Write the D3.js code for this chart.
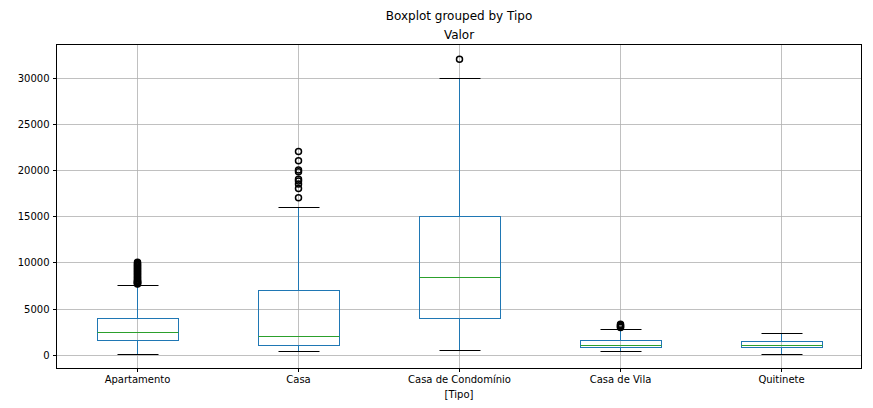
<!DOCTYPE html>
<html>
<head>
<meta charset="utf-8">
<script src="https://cdn.jsdelivr.net/npm/d3@7"></script>
<style>
body{margin:0;background:#fff;}
text{font-family:"DejaVu Sans",sans-serif;fill:#000;}
</style>
</head>
<body>
<svg id="chart" width="873" height="408"></svg>
<script>
const categories = ["Apartamento","Casa","Casa de Condomínio","Casa de Vila","Quitinete"];
const whiskerLow = [100, 450, 550, 450, 100];
const q1 = [1620, 1000, 3950, 800, 850];
const median = [2500, 2000, 8450, 1000, 1100];
const q3 = [4000, 7000, 15000, 1600, 1500];
const whiskerHigh = [7600, 16000, 30000, 2800, 2400];
const outliers = [
  [7650, 7700, 7750, 7800, 7850, 7900, 7950, 8000, 8100, 8200, 8300, 8400, 8500, 8600, 8700, 8800, 8900, 9000, 9100, 9200, 9300, 9400, 9500, 9600, 9700, 9800, 9900, 10000],
  [17000, 18000, 18500, 18800, 19000, 19800, 20000, 21000, 22000],
  [32000],
  [2950, 3000, 3100, 3200, 3300],
  []
];
const yTicks = [0, 5000, 10000, 15000, 20000, 25000, 30000];

const svg = d3.select("#chart");
const L = 56.5, R = 861.5, T = 44.5, B = 368.5;

const allVals = whiskerLow.concat(outliers.flat(), whiskerHigh);
const vmin = d3.min(allVals), vmax = d3.max(allVals);
const pad = (vmax - vmin) * 0.05;
const y = d3.scaleLinear().domain([vmin - pad, vmax + pad]).range([B, T]);
const x = d3.scaleLinear().domain([0.5, categories.length + 0.5]).range([L, R]);
const step = x(2) - x(1);
const boxW = step * 0.5, capW = step * 0.25;
const px = v => Math.round(v) + 0.5;

const g = svg.append("g");
// grid
g.selectAll(".hg").data(yTicks).join("line")
  .attr("x1", L).attr("x2", R)
  .attr("y1", d => px(y(d))).attr("y2", d => px(y(d)))
  .attr("stroke", "#b0b0b0").attr("stroke-width", 0.8);
g.selectAll(".vg").data(categories).join("line")
  .attr("x1", (d, i) => px(x(i + 1))).attr("x2", (d, i) => px(x(i + 1)))
  .attr("y1", T).attr("y2", B)
  .attr("stroke", "#b0b0b0").attr("stroke-width", 0.8);

// boxes
categories.forEach((c, i) => {
  const cx = px(x(i + 1));
  const blue = "#1f77b4";
  g.append("line").attr("x1", cx).attr("x2", cx).attr("y1", px(y(q1[i]))).attr("y2", px(y(whiskerLow[i])))
    .attr("stroke", blue).attr("stroke-width", 1);
  g.append("line").attr("x1", cx).attr("x2", cx).attr("y1", px(y(q3[i]))).attr("y2", px(y(whiskerHigh[i])))
    .attr("stroke", blue).attr("stroke-width", 1);
  const bx0 = px(cx - boxW / 2), bx1 = px(cx + boxW / 2);
  g.append("rect").attr("x", bx0).attr("y", px(y(q3[i])))
    .attr("width", bx1 - bx0).attr("height", px(y(q1[i])) - px(y(q3[i])))
    .attr("fill", "none").attr("stroke", blue).attr("stroke-width", 1);
  g.append("line").attr("x1", bx0).attr("x2", bx1)
    .attr("y1", px(y(median[i]))).attr("y2", px(y(median[i])))
    .attr("stroke", "#2ca02c").attr("stroke-width", 1);
  [whiskerLow[i], whiskerHigh[i]].forEach(v => {
    g.append("line").attr("x1", px(cx - capW / 2)).attr("x2", px(cx + capW / 2))
      .attr("y1", px(y(v))).attr("y2", px(y(v))).attr("stroke", "#000").attr("stroke-width", 1);
  });
  g.selectAll(null).data(outliers[i]).join("circle")
    .attr("cx", cx).attr("cy", d => y(d)).attr("r", 3)
    .attr("fill", "none").attr("stroke", "#000").attr("stroke-width", 1.5);
});

// spines
g.append("rect").attr("x", L).attr("y", T).attr("width", R - L).attr("height", B - T)
  .attr("fill", "none").attr("stroke", "#000").attr("stroke-width", 1);

// axes
const yAxis = d3.axisLeft(y).tickValues(yTicks).tickSize(3.5).tickPadding(3.5).tickFormat(d3.format("d"));
const ya = svg.append("g").attr("transform", `translate(${L},0)`).call(yAxis);
ya.select(".domain").remove();
ya.selectAll(".tick").attr("transform", d => `translate(0,${px(y(d))})`);
ya.selectAll("text").attr("font-size", 10).style("font-family", "DejaVu Sans");

const xAxis = d3.axisBottom(x).tickValues(categories.map((c, i) => i + 1))
  .tickFormat((d) => categories[d - 1]).tickSize(3.5).tickPadding(3.5);
const xa = svg.append("g").attr("transform", `translate(0,${B})`).call(xAxis);
xa.select(".domain").remove();
xa.selectAll(".tick").attr("transform", d => `translate(${px(x(d))},0)`);
xa.selectAll("text").attr("font-size", 10).style("font-family", "DejaVu Sans");

// titles
svg.append("text").attr("x", (L + R) / 2).attr("y", 20).attr("text-anchor", "middle")
  .attr("font-size", 12).text("Boxplot grouped by Tipo");
svg.append("text").attr("x", (L + R) / 2).attr("y", 39).attr("text-anchor", "middle")
  .attr("font-size", 12).text("Valor");
svg.append("text").attr("x", (L + R) / 2).attr("y", 398).attr("text-anchor", "middle")
  .attr("font-size", 10).text("[Tipo]");
</script>
</body>
</html>
